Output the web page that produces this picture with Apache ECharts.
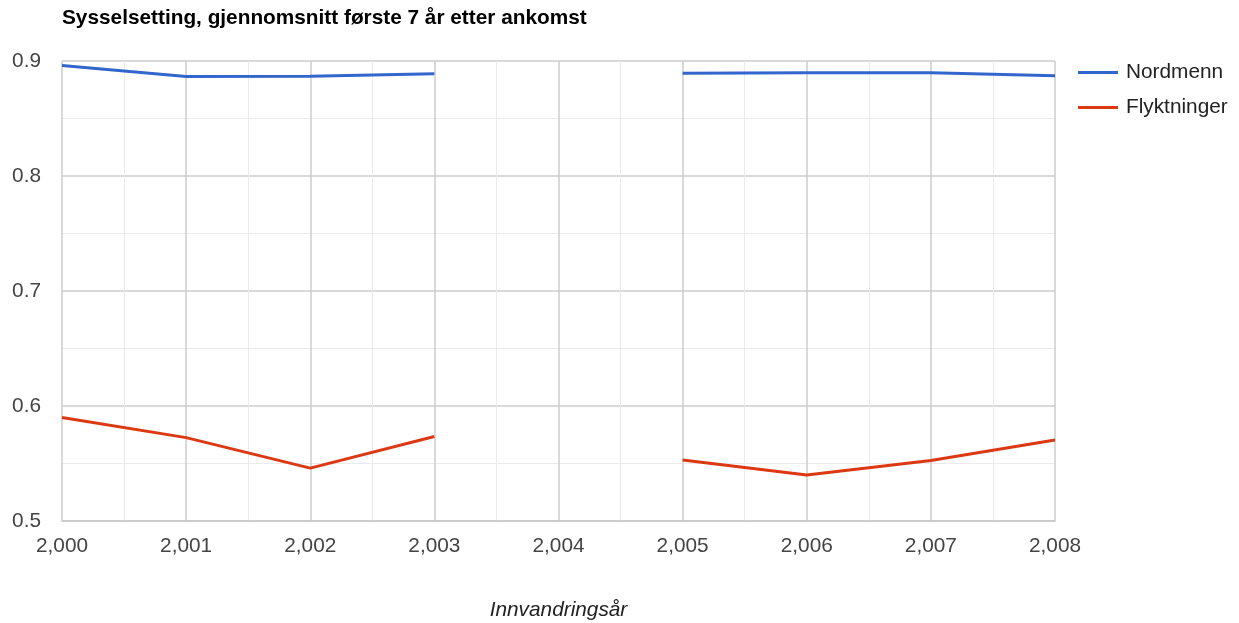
<!DOCTYPE html>
<html>
<head>
<meta charset="utf-8">
<script src="https://cdn.jsdelivr.net/npm/echarts@6/dist/echarts.min.js"></script>
<style>html,body{margin:0;padding:0;background:#fff}#c{width:1239px;height:623px}</style>
</head>
<body>
<div id="c"></div>
<script>
const years = [2000, 2001, 2002, 2003, 2004, 2005, 2006, 2007, 2008];
const nordmenn = [0.896, 0.8865, 0.8868, 0.889, null, 0.8893, 0.8898, 0.8898, 0.8872];
const flyktninger = [0.590, 0.5725, 0.546, 0.5735, null, 0.553, 0.540, 0.5527, 0.5705];
const titleText = 'Sysselsetting, gjennomsnitt første 7 år etter ankomst';
const xName = 'Innvandringsår';

const font = 'Liberation Sans, Arial, sans-serif';
const fs = 20.8;
const chart = echarts.init(document.getElementById('c'));
chart.setOption({
  animation: false,
  title: { text: titleText, left: 62, top: 8, padding: 0, textStyle: { fontFamily: font, fontSize: 20.8, fontWeight: 'bold', color: '#000' } },
  legend: {
    orient: 'vertical', left: 1078, top: 62, padding: 0, itemWidth: 40, itemHeight: 3, itemGap: 14, icon: 'rect',
    textStyle: { fontFamily: font, fontSize: fs, color: '#222', padding: [0, 0, 0, 3] },
    data: ['Nordmenn', 'Flyktninger']
  },
  grid: { left: 62, right: 184, top: 61, bottom: 102, containLabel: false, outerBoundsMode: 'none' },
  xAxis: {
    type: 'value', min: 2000, max: 2008, interval: 1,
    name: xName, nameLocation: 'middle', nameGap: 79,
    nameTextStyle: { fontFamily: font, fontSize: fs, fontStyle: 'italic', color: '#222' },
    axisLine: { show: true, lineStyle: { color: '#c8c8c8', width: 1.5 } },
    axisTick: { show: false },
    axisLabel: { fontFamily: font, fontSize: fs, color: '#444', margin: 15, formatter: v => v.toLocaleString('en-US') },
    splitLine: { show: true, lineStyle: { color: '#cccccc', width: 1.5 } },
    minorTick: { show: false, splitNumber: 2 },
    minorSplitLine: { show: true, lineStyle: { color: '#ebebeb', width: 1 } }
  },
  yAxis: {
    type: 'value', min: 0.5, max: 0.9, interval: 0.1,
    axisLine: { show: false }, axisTick: { show: false },
    axisLabel: { fontFamily: font, fontSize: fs, color: '#444', margin: 21 },
    splitLine: { show: true, lineStyle: { color: '#cccccc', width: 1.5 } },
    minorTick: { show: false, splitNumber: 2 },
    minorSplitLine: { show: true, lineStyle: { color: '#ebebeb', width: 1 } }
  },
  series: [
    { name: 'Nordmenn', type: 'line', data: years.map((y, i) => [y, nordmenn[i]]), showSymbol: false, symbol: 'none', connectNulls: false, lineStyle: { width: 3, color: '#3366cc' }, itemStyle: { color: '#3366cc' } },
    { name: 'Flyktninger', type: 'line', data: years.map((y, i) => [y, flyktninger[i]]), showSymbol: false, symbol: 'none', connectNulls: false, lineStyle: { width: 3, color: '#dc3912' }, itemStyle: { color: '#dc3912' } }
  ]
});
</script>
</body>
</html>
